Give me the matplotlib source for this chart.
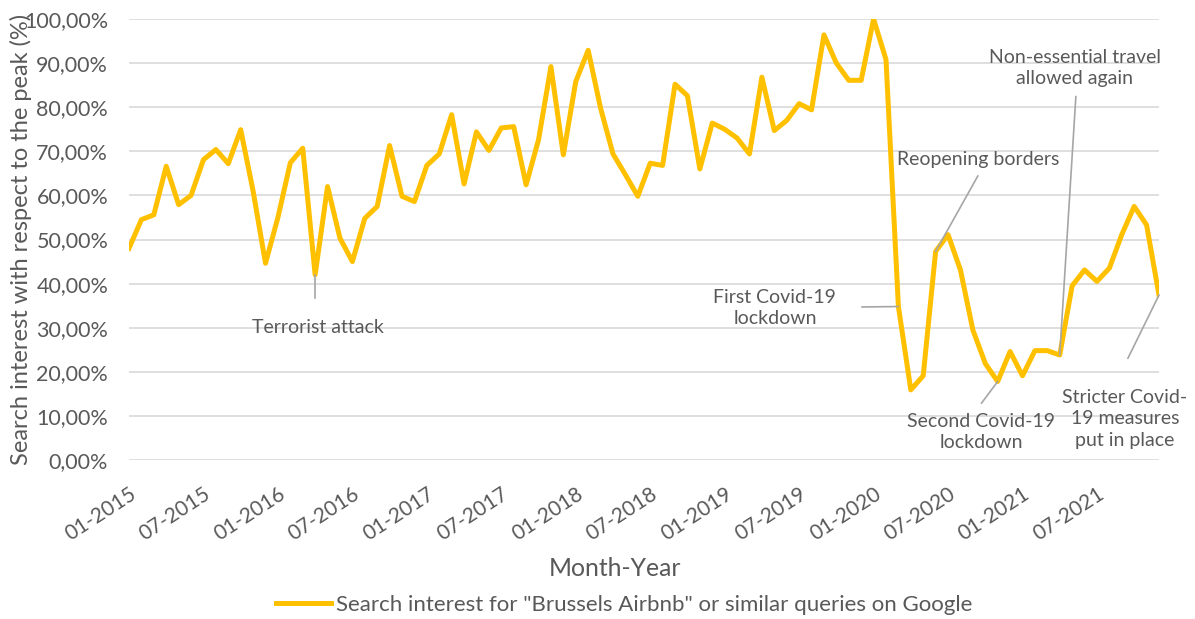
import numpy as np
import pandas as pd
import matplotlib
matplotlib.use("Agg")
import matplotlib.pyplot as plt
from matplotlib.ticker import FuncFormatter

# monthly Google Trends interest, Jan 2015 - Dec 2021 (% of the peak)
months = pd.period_range("2015-01", "2021-12", freq="M")
interest = [
    48.0, 54.5, 55.6, 66.6, 57.9, 60.0, 68.1, 70.4, 67.2, 74.9, 61.0, 44.6,
    55.0, 67.4, 70.7, 42.0, 62.0, 50.3, 45.0, 54.8, 57.5, 71.3, 59.8, 58.6,
    66.8, 69.4, 78.3, 62.6, 74.4, 70.2, 75.3, 75.6, 62.4, 72.6, 89.2, 69.2,
    85.8, 92.9, 79.8, 69.4, 64.7, 59.8, 67.3, 66.8, 85.2, 82.6, 66.0, 76.4,
    75.0, 73.0, 69.4, 86.8, 74.7, 77.0, 80.8, 79.4, 96.4, 90.0, 86.1, 86.1,
    100.0, 90.8, 34.8, 15.9, 19.1, 47.3, 51.1, 43.1, 29.5, 21.9, 17.8, 24.6,
    19.1, 24.8, 24.8, 23.8, 39.5, 43.1, 40.5, 43.5, 51.1, 57.5, 53.3, 37.4,
]
tick_labels = [m.strftime("%m-%Y") for m in months]

# event notes: (month index, text, text x, text y, leader start x, leader start y)
events = [
    (15, "Terrorist attack", 15.25, 30.0, 15.0, 36.8),
    (62, "First Covid-19\nlockdown", 52.05, 34.5, 59.07, 34.7),
    (65, "Reopening borders", 68.4, 68.1, 68.4, 64.4),
    (75, "Non-essential travel\nallowed again", 76.2, 88.8, 76.3, 82.4),
    (70, "Second Covid-19\nlockdown", 68.65, 6.3, 68.7, 12.9),
    (83, "Stricter Covid-\n19 measures\nput in place", 80.26, 9.3, 80.5, 23.1),
]

text_col = "#595959"
plt.rcParams["font.family"] = ["Lato", "DejaVu Sans"]

fig = plt.figure(figsize=(11.95, 6.19), dpi=100)
ax = fig.add_axes([129 / 1195, 1 - 460 / 619, 1030 / 1195, 441 / 619])

x = np.arange(len(interest))
ax.plot(x, interest, color="#FFC000", lw=3.6, solid_joinstyle="round",
        label='Search interest for "Brussels Airbnb" or similar queries on Google')

ax.set_xlim(0, len(interest) - 1)
ax.set_ylim(0, 100)
ax.set_yticks(np.arange(0, 101, 10))
ax.yaxis.set_major_formatter(FuncFormatter(lambda v, p: f"{v:.2f}%".replace(".", ",")))
ax.set_xticks(x[::6])
ax.set_xticklabels(tick_labels[::6], rotation=33, ha="right", va="top",
                   rotation_mode="anchor")

ax.grid(axis="y", color="#D9D9D9", lw=1.2)
ax.set_axisbelow(True)
for s in ax.spines.values():
    s.set_visible(False)
ax.tick_params(axis="y", length=0, pad=15, labelsize=15.5, labelcolor=text_col)
ax.tick_params(axis="x", length=0, pad=17, labelsize=15, labelcolor=text_col)

ax.set_ylabel("Search interest with respect to the peak (%)", fontsize=17,
              color=text_col, va="center")
ax.yaxis.set_label_coords(-0.105, 0.5)
fig.text(615 / 1195, 1 - 568 / 619, "Month-Year", fontsize=17.8, color=text_col,
         ha="center", va="center")

for idx, label, tx, ty, lx, ly in events:
    ax.plot([lx, x[idx]], [ly, interest[idx]], color="#A6A6A6", lw=1.2,
            clip_on=False, zorder=3)
    ax.text(tx, ty, label, ha="center", va="center", fontsize=14,
            color=text_col, linespacing=1.3, clip_on=False)

fig.legend(loc="center", bbox_to_anchor=(624 / 1195, 1 - 605 / 619),
           frameon=False, fontsize=16, handlelength=2.5, handletextpad=0.22,
           labelcolor=text_col)

fig.savefig("out.png", dpi=100)
